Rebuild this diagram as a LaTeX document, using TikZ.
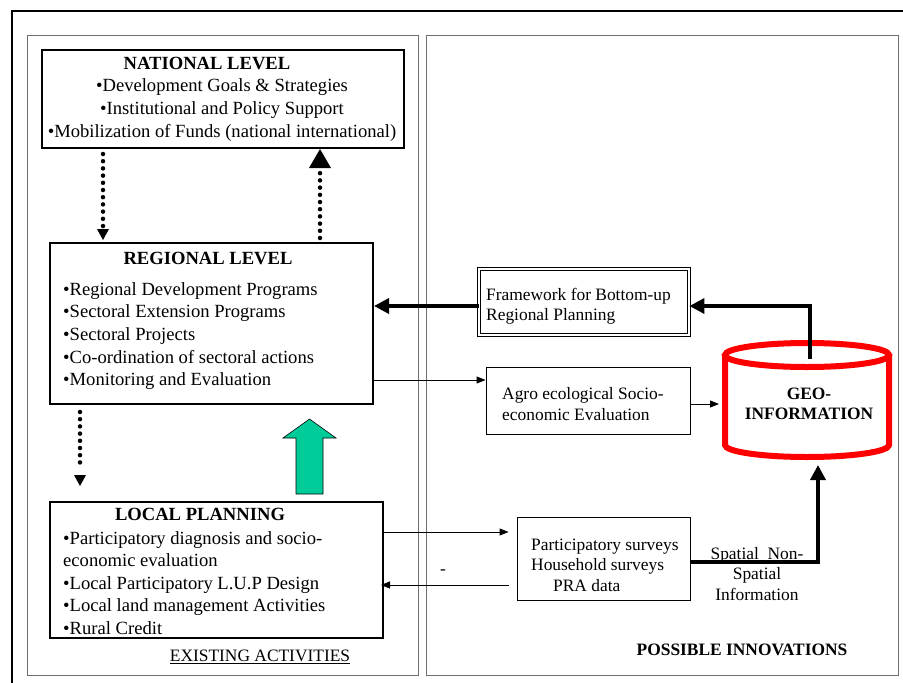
\documentclass[tikz,border=0pt]{standalone}
\usepackage{fontspec}
\setmainfont{Liberation Serif}
\usetikzlibrary{arrows.meta,calc}
\definecolor{arrowgreen}{RGB}{0,204,153}
\definecolor{geored}{RGB}{255,0,0}
\definecolor{panelgray}{RGB}{110,110,110}
\newcommand{\bigtxt}{\fontsize{18.6}{22.6}\selectfont}
\newcommand{\smalltxt}{\fontsize{17.4}{20.4}\selectfont}
\tikzset{
  boxthick/.style={draw, line width=2pt, inner sep=0pt},
  boxthin/.style={draw, line width=0.9pt, inner sep=0pt},
  boxdouble/.style={draw, double, line width=0.9pt, double distance=1.6pt, inner sep=0pt},
  txt/.style={inner sep=0pt, font=\bigtxt},
  stxt/.style={inner sep=0pt, font=\smalltxt},
  panel/.style={draw=panelgray, line width=0.9pt},
  dotline/.style={line width=4.5pt, line cap=round, dash pattern=on 0pt off 7.2pt},
  thinarrow/.style={line width=0.9pt, -{Triangle[length=9pt,width=7pt]}},
  heavyarrow/.style={line width=3.5pt, -{Triangle[length=15pt,width=15pt]}},
}
\begin{document}
\begin{tikzpicture}[x=1pt,y=-1pt]
\useasboundingbox (0,0) rectangle (903,683);
% outer frame (right and bottom sides lie outside the picture)
\draw[line width=2pt] (12,700) -- (12,11) -- (920,11);
% panels
\draw[panel] (27,35) rectangle (418,675);
\draw[panel] (426,35) rectangle (898,675);

% national level
\node[boxthick, minimum width=362pt, minimum height=98pt] (nat) at (223,99) {};
\node[txt, align=center] (natt) at (222,99)
  {\textbf{NATIONAL LEVEL}\hspace*{30pt}\\•Development Goals \& Strategies\\•Institutional and Policy Support\\•Mobilization of Funds (national international)};

% regional level
\node[boxthick, minimum width=323pt, minimum height=161pt] (reg) at (211.5,323.5) {};
\node[txt, font=\bigtxt\bfseries] (regt) at (208,258) {REGIONAL LEVEL};
\node[txt, align=left, anchor=west] (regi) at (63,336)
  {•Regional Development Programs\\•Sectoral Extension Programs\\•Sectoral Projects\\•Co-ordination of sectoral actions\\•Monitoring and Evaluation};

% local planning
\node[boxthick, minimum width=333pt, minimum height=136pt] (loc) at (216.5,570) {};
\node[txt, font=\bigtxt\bfseries] (loct) at (200,514) {LOCAL PLANNING};
\node[txt, align=left, anchor=west] (loci) at (63,583)
  {•Participatory diagnosis and socio-\\economic evaluation\\•Local Participatory L.U.P Design\\•Local land management Activities\\•Rural Credit};

\node[stxt] (exist) at (260,657) {\underline{EXISTING ACTIVITIES}};

% dotted arrows between levels
\coordinate (natdl) at (103,148);
\coordinate (regul) at (103,243);
\draw[dotline] (natdl) ++(0,6) -- ($(regul)+(0,-12)$);
\fill ($(regul)+(0,-3)$) -- ++(-6,-11) -- ++(12,0) -- cycle;
\coordinate (regur) at (320,244);
\coordinate (natdr) at (320,148);
\draw[dotline] ($(regur)+(0,-6)$) -- ($(natdr)+(0,20)$);
\fill ($(natdr)+(0,1)$) -- ++(-11,19) -- ++(22,0) -- cycle;
\coordinate (regdl) at (80,404);
\coordinate (locul) at (80,502);
\draw[dotline] ($(regdl)+(0,8)$) -- ($(locul)+(0,-34)$);
\fill ($(locul)+(0,-16)$) -- ++(-6,-11) -- ++(12,0) -- cycle;

% green block arrow
\draw[fill=arrowgreen, line width=0.6pt] (296,494) -- (296,438) -- (283,438) -- (309.5,419) -- (336,438) -- (323,438) -- (323,494) -- cycle;

% right side boxes
\node[boxdouble, minimum width=210pt, minimum height=66pt] (fw) at (584,302) {};
\node[stxt, align=left, anchor=west] (fwt) at (486,306) {Framework for Bottom-up\\Regional Planning};

\node[boxthin, minimum width=204pt, minimum height=67pt] (agro) at (588,400.5) {};
\node[stxt, align=left, anchor=west] (agrot) at (502,404) {Agro ecological Socio-\\economic Evaluation};

\node[boxthin, minimum width=173pt, minimum height=83pt] (part) at (603.5,558.5) {};
\node[stxt, align=left, anchor=west] (partt) at (531,565) {Participatory surveys\\Household surveys\\\hspace*{22pt}PRA data};

% cylinder
\draw[geored, line width=6pt] (725,355) -- (725,445) arc[start angle=180, end angle=360, x radius=82, y radius=-12] -- (889,355);
\draw[geored, line width=6pt] (807,355) ellipse[x radius=82, y radius=12];
\node[stxt, font=\smalltxt\bfseries, align=center] (geo) at (809,404) {GEO-\\INFORMATION};
\coordinate (geotop) at (810,359);
\coordinate (geoleft) at (719,404);
\coordinate (geobot) at (818,465);

% connectors
\draw[heavyarrow] (fw.west |- 0,306) -- (reg.east |- 0,306);
\draw[heavyarrow] (geotop) |- (fw.east |- 0,306);
\draw[thinarrow] (reg.east |- 0,380) -- (agro.west |- 0,380);
\draw[thinarrow] (agro.east |- 0,404) -- (geoleft);
\draw[thinarrow, shorten >=8pt] (loc.east |- 0,532) -- (part.west |- 0,532);
\draw[thinarrow, shorten <=8pt, shorten >=-3pt] (part.west |- 0,585) -- (loc.east |- 0,585);
\node[stxt] (dash) at (443,572) {-};
\draw[heavyarrow] (part.east |- 0,562) -| (geobot);
\node[stxt, align=center] (spat) at (757,574) {Spatial\ \ Non-\\Spatial\\Information};

\node[stxt, font=\smalltxt\bfseries] (poss) at (742,650) {POSSIBLE INNOVATIONS};
\end{tikzpicture}
\end{document}
